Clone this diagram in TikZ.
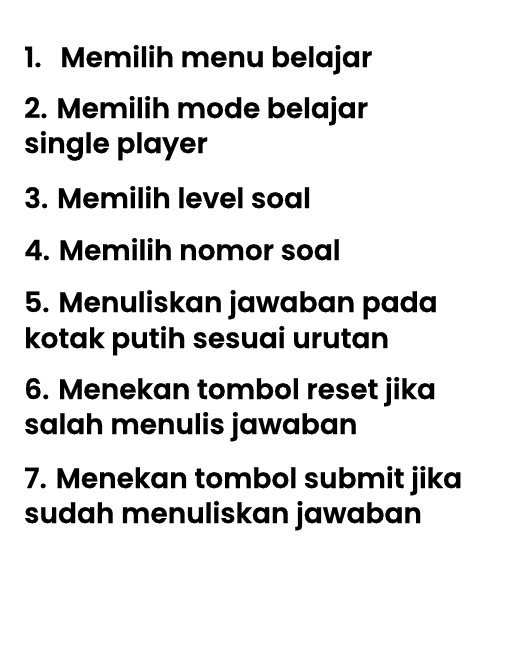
\documentclass[tikz,border=0pt]{standalone}
\usepackage{fontspec}
\newfontfamily\popsemi{Poppins SemiBold}[FakeBold=0.6]
\begin{document}
\begin{tikzpicture}[x=1pt,y=-1pt]
\useasboundingbox (0,0) rectangle (516,654);
\tikzset{item/.style={anchor=base west,inner sep=0pt,text=black,font=\popsemi\fontsize{28}{35}\selectfont}}
\node[item] (i1)  at (24,67)  {1.\hspace{10pt} Memilih menu belajar};
\node[item] (i2a) at (24,118) {2. Memilih mode belajar};
\node[item] (i2b) at (24,153) {single player};
\node[item] (i3)  at (24,208) {3. Memilih level soal};
\node[item] (i4)  at (24,260) {4. Memilih nomor soal};
\node[item] (i5a) at (24,312) {5. Menuliskan jawaban pada};
\node[item] (i5b) at (24,348) {kotak putih sesuai urutan};
\node[item] (i6a) at (24,399) {6. Menekan tombol reset jika};
\node[item] (i6b) at (24,434) {salah menulis jawaban};
\node[item] (i7a) at (24,488) {7. Menekan tombol submit jika};
\node[item] (i7b) at (24,523) {sudah menuliskan jawaban};
\end{tikzpicture}
\end{document}
